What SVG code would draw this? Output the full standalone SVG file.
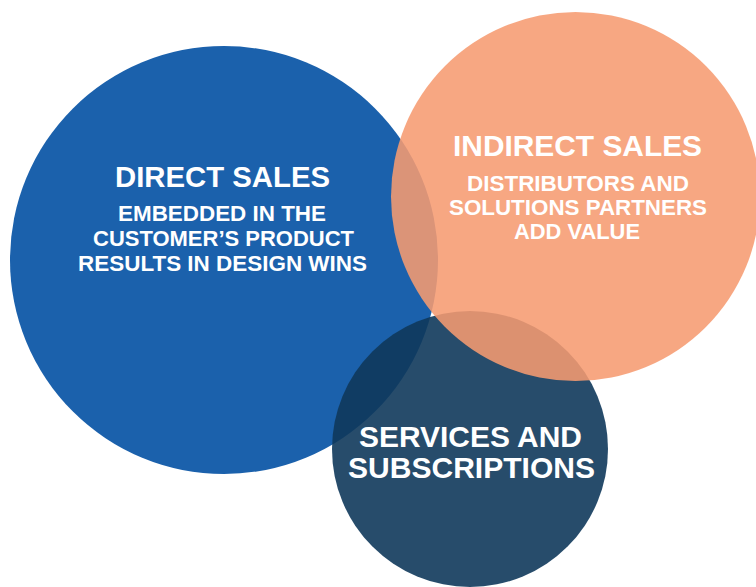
<svg xmlns="http://www.w3.org/2000/svg" width="756" height="587" viewBox="0 0 756 587">
<style>
  text { font-family: "Liberation Sans", Arial, sans-serif; font-weight: bold; fill: #ffffff; text-anchor: middle; }
  .title { font-size: 30px; }
  .sub { font-size: 22px; }
</style>
<rect width="756" height="587" fill="#ffffff"/>
<g id="direct-sales">
  <circle cx="224" cy="260" r="214" fill="#1B61AC"/>
</g>
<g id="services">
  <circle cx="470" cy="449" r="138" fill="#10385B" fill-opacity="0.9"/>
</g>
<g id="indirect-sales">
  <circle cx="575.5" cy="196.5" r="184.5" fill="#F69B71" fill-opacity="0.88"/>
</g>
<g id="labels">
  <text class="title" x="222.5" y="187" textLength="215" lengthAdjust="spacingAndGlyphs">DIRECT SALES</text>
  <text class="sub" x="222" y="221" textLength="208" lengthAdjust="spacingAndGlyphs">EMBEDDED IN THE</text>
  <text class="sub" x="223.5" y="246" textLength="261" lengthAdjust="spacingAndGlyphs">CUSTOMER’S PRODUCT</text>
  <text class="sub" x="222.5" y="271" textLength="289" lengthAdjust="spacingAndGlyphs">RESULTS IN DESIGN WINS</text>
  <text class="title" x="577.5" y="156" textLength="249" lengthAdjust="spacingAndGlyphs">INDIRECT SALES</text>
  <text class="sub" x="578" y="191" textLength="222" lengthAdjust="spacingAndGlyphs">DISTRIBUTORS AND</text>
  <text class="sub" x="578" y="215" textLength="258" lengthAdjust="spacingAndGlyphs">SOLUTIONS PARTNERS</text>
  <text class="sub" x="577" y="239" textLength="126" lengthAdjust="spacingAndGlyphs">ADD VALUE</text>
  <text class="title" x="470.5" y="447" textLength="223" lengthAdjust="spacingAndGlyphs">SERVICES AND</text>
  <text class="title" x="471.5" y="478" textLength="247" lengthAdjust="spacingAndGlyphs">SUBSCRIPTIONS</text>
</g>
</svg>
